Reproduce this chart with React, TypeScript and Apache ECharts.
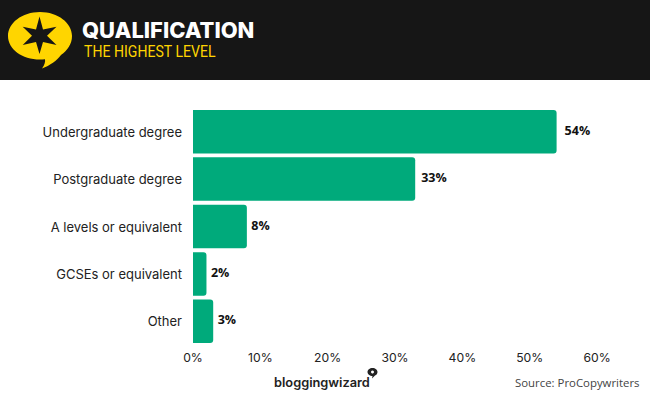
import React, { useEffect, useRef } from "react";
import * as echarts from "echarts";

const categories = ["Undergraduate degree", "Postgraduate degree", "A levels or equivalent", "GCSEs or equivalent", "Other"];
const values = [54, 33, 8, 2, 3];
const labelGaps = [8, 6, 4.5, 4.5, 4.5];
const title = "QUALIFICATION";
const subtitle = "THE HIGHEST LEVEL";
const source = "Source: ProCopywriters";
const brand = "bloggingwizard";

const bubblePath =
  "M40 12C22 12 8 23 8 36C8 49 22 59.500 40 59.500C41.500 59.500 43 59.400 45 59.300C45.500 62 44.500 65 42 68.500C50 65.500 57 60.500 61 55C67.500 50.500 72 44 72 36C72 23 58 12 40 12Z";
const starPath =
  "M39.500 16.500L43 29.500L56.500 26.700L47 35.700L56.500 45L43 42L39.500 54L36 42L22.700 45L32 35.700L22.700 26.700L36 29.500Z";
const pinPath =
  "M5 0C2.200 0 0 1.800 0 4C0 6.200 2.200 8 5 8L4.500 10.500L7.500 7.500C9 7 10 5.500 10 4C10 1.800 7.800 0 5 0Z";

echarts.graphic.registerShape("bwBubble", echarts.graphic.extendPath(bubblePath, {}) as any);
echarts.graphic.registerShape("bwStar", echarts.graphic.extendPath(starPath, {}) as any);
echarts.graphic.registerShape("bwPin", echarts.graphic.extendPath(pinPath, {}) as any);

export default function App() {
  const ref = useRef<HTMLDivElement>(null);
  useEffect(() => {
    const chart = echarts.init(ref.current!, undefined, { renderer: "svg" });
    chart.setOption({
      animation: false,
      backgroundColor: "#ffffff",
      grid: { left: 193, right: 53, top: 108, bottom: 55, containLabel: false },
      xAxis: {
        type: "value",
        min: 0,
        max: 60,
        interval: 10,
        axisLine: { show: false },
        axisTick: { show: false },
        splitLine: { show: false },
        axisLabel: { formatter: "{value}%", color: "#222222", fontFamily: "Inter", fontSize: 12.2, margin: 6 },
      },
      yAxis: {
        type: "category",
        inverse: true,
        data: categories,
        axisLine: { show: false },
        axisTick: { show: false },
        axisLabel: { color: "#222222", fontFamily: "Inter", fontSize: 13, margin: 11, padding: [0, 0, 6, 0] },
      },
      series: [
        {
          type: "bar",
          data: values.map((value, i) => ({ value, label: { distance: labelGaps[i] } })),
          barWidth: 43.5,
          itemStyle: { color: "#00aa7b", borderRadius: [0, 3, 3, 0] },
          label: {
            show: true,
            position: "right",
            offset: [0, -1.5],
            formatter: "{c}%",
            color: "#111111",
            fontFamily: "Open Sans",
            fontWeight: 700,
            fontSize: 12.5,
          },
        },
      ],
      graphic: [
        { type: "rect", z: 0, shape: { x: 0, y: 0, width: 650, height: 80 }, style: { fill: "#161616" } },
        { type: "bwBubble", z: 1, x: 0, y: 0, style: { fill: "#ffd500" } },
        { type: "bwStar", z: 2, x: 0, y: 0, style: { fill: "#161616" } },
        { type: "text", z: 3, x: 82, y: 19, style: { text: title, fill: "#ffffff", font: "800 21.900px Inter" } },
        { type: "text", z: 3, x: 84, y: 44, scaleX: 0.88, style: { text: subtitle, fill: "#ffd500", font: "400 16px Roboto" } },
        { type: "text", z: 3, x: 274, y: 376, style: { text: brand, fill: "#222222", font: "600 12.800px Inter" } },
        { type: "bwPin", z: 3, x: 367.500, y: 368, style: { fill: "#222222" } },
        { type: "circle", z: 4, shape: { cx: 372.500, cy: 372, r: 1.500 }, style: { fill: "#ffffff" } },
        { type: "text", z: 3, x: 515, y: 377, style: { text: source, fill: "#444444", font: "400 11.400px 'Open Sans'" } },
      ],
    });
    return () => chart.dispose();
  }, []);
  return <div ref={ref} style={{ position: "absolute", left: 0, top: 0, width: 650, height: 400 }} />;
}
